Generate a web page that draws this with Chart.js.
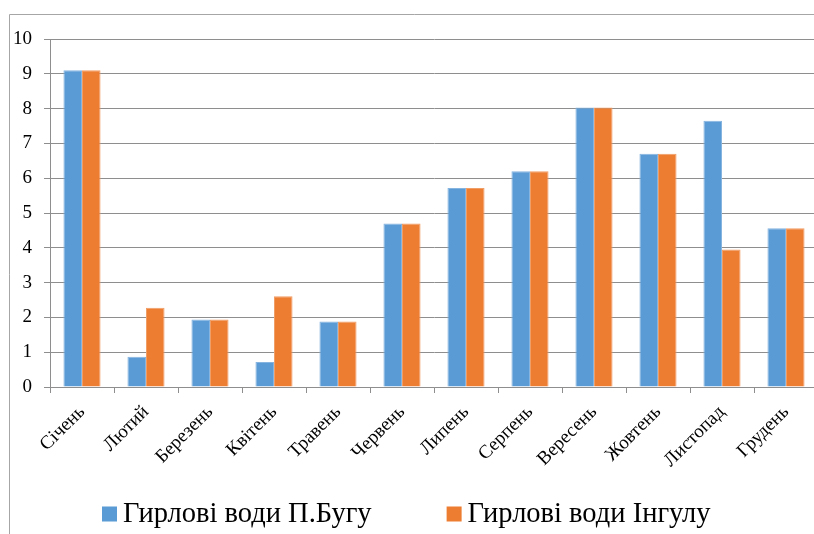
<!DOCTYPE html>
<html lang="uk">
<head>
<meta charset="utf-8">
<title>Гирлові води</title>
<script src="https://cdn.jsdelivr.net/npm/chart.js@4/dist/chart.umd.min.js"></script>
<style>
  html, body { margin: 0; padding: 0; background: #fff; overflow: hidden; }
  #wrap { position: relative; width: 814px; height: 534px; overflow: hidden; }
  #chart { position: absolute; left: 0; top: 0; }
</style>
</head>
<body>
<div id="wrap"><canvas id="chart" width="820" height="534"></canvas></div>
<script>
// Місяці року
const months = ['Січень', 'Лютий', 'Березень', 'Квітень', 'Травень', 'Червень',
                'Липень', 'Серпень', 'Вересень', 'Жовтень', 'Листопад', 'Грудень'];

// Гирлові води П.Бугу
const bugValues = [9.1, 0.87, 1.94, 0.72, 1.88, 4.7, 5.72, 6.2, 8.03, 6.7, 7.65, 4.56];

// Гирлові води Інгулу
const ingulValues = [9.1, 2.28, 1.94, 2.61, 1.88, 4.7, 5.72, 6.2, 8.03, 6.7, 3.95, 4.56];

// Підписи осі значень
const yTicks = [0, 1, 2, 3, 4, 5, 6, 7, 8, 9, 10];

const seriesNames = ['Гирлові води П.Бугу', 'Гирлові води Інгулу'];

const serif = '"Liberation Serif", "Times New Roman", serif';
const gridColor = '#8e8e8e';

// Рамка області діаграми (ліва і верхня лінії)
const framePlugin = {
  id: 'frame',
  beforeDraw(chart) {
    const ctx = chart.ctx;
    ctx.save();
    ctx.strokeStyle = '#a6a6a6';
    ctx.lineWidth = 1;
    ctx.beginPath();
    ctx.moveTo(9.5, chart.height);
    ctx.lineTo(9.5, 14.5);
    ctx.lineTo(chart.width, 14.5);
    ctx.stroke();
    ctx.restore();
  }
};

// Легенда під діаграмою: квадрат кольору серії і її назва
const bottomLegend = {
  id: 'bottomLegend',
  afterDraw(chart, args, opts) {
    const ctx = chart.ctx;
    ctx.save();
    ctx.font = opts.fontSize + 'px ' + serif;
    ctx.textBaseline = 'middle';
    ctx.textAlign = 'left';
    let x = opts.startX;
    chart.data.datasets.forEach(ds => {
      ctx.fillStyle = ds.backgroundColor;
      ctx.fillRect(x, opts.centerY - opts.box / 2, opts.box, opts.box);
      x += opts.box + opts.textGap;
      ctx.fillStyle = '#000';
      ctx.fillText(ds.label, x, opts.centerY + 1);
      x += ctx.measureText(ds.label).width + opts.itemGap;
    });
    ctx.restore();
  }
};

new Chart(document.getElementById('chart'), {
  type: 'bar',
  data: {
    labels: months,
    datasets: [
      {
        label: seriesNames[0],
        data: bugValues,
        backgroundColor: '#5b9bd5',
        borderColor: '#86b4e0',
        borderWidth: 1,
        categoryPercentage: 0.58,
        barPercentage: 1
      },
      {
        label: seriesNames[1],
        data: ingulValues,
        backgroundColor: '#ed7d31',
        borderColor: '#f19d66',
        borderWidth: 1,
        categoryPercentage: 0.58,
        barPercentage: 1
      }
    ]
  },
  options: {
    responsive: false,
    animation: false,
    layout: { padding: { left: 0, right: 2, top: 39, bottom: 0 } },
    plugins: {
      tooltip: { enabled: false },
      legend: { display: false },
      bottomLegend: {
        fontSize: 28.5,
        startX: 102,
        centerY: 514,
        box: 15,
        textGap: 6,
        itemGap: 75
      }
    },
    scales: {
      x: {
        grid: {
          display: true,
          drawOnChartArea: false,
          drawTicks: true,
          tickLength: 6,
          color: gridColor
        },
        border: { display: true, color: gridColor },
        ticks: {
          color: '#000',
          font: { family: serif, size: 19 },
          maxRotation: 45,
          minRotation: 45,
          padding: 8,
          autoSkip: false
        },
        afterFit(scale) { scale.height = 147; }
      },
      y: {
        min: 0,
        max: 10,
        afterBuildTicks(scale) { scale.ticks = yTicks.map(v => ({ value: v })); },
        grid: {
          color: gridColor,
          tickLength: 6,
          drawTicks: true
        },
        border: { display: true, color: gridColor },
        ticks: {
          color: '#000',
          font: { family: serif, size: 19 },
          padding: 12
        },
        afterFit(scale) { scale.width = 50; }
      }
    }
  },
  plugins: [framePlugin, bottomLegend]
});
</script>
</body>
</html>
